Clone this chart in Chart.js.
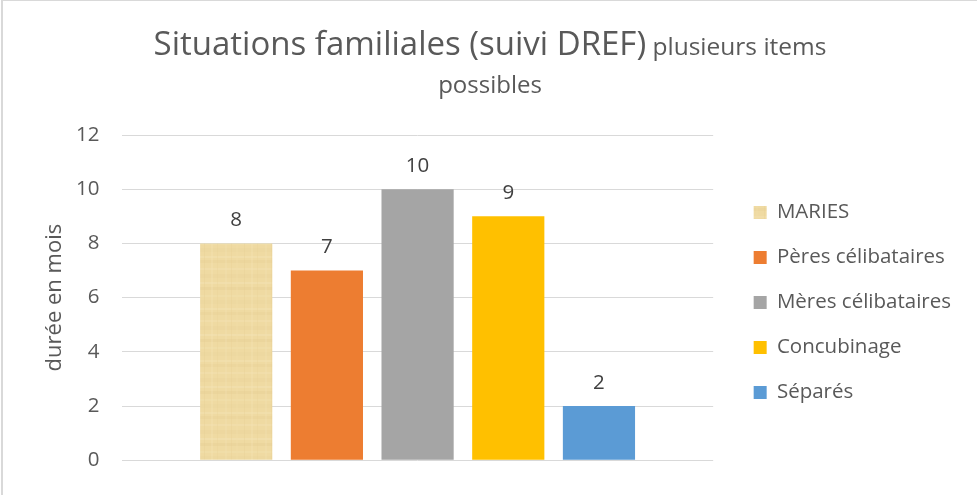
<!DOCTYPE html>
<html>
<head>
<meta charset="utf-8">
<script src="https://cdn.jsdelivr.net/npm/chart.js@4/dist/chart.umd.min.js"></script>
<style>
html,body{margin:0;padding:0;background:#ffffff;}
#wrap{width:977px;height:495px;position:relative;overflow:hidden;}
canvas{display:block;}
</style>
</head>
<body>
<div id="wrap"><canvas id="chart" width="977" height="495"></canvas></div>
<script>
// ---- data ----
const categories = ['Situations familiales'];
const seriesNames = ['MARIES', 'Pères célibataires', 'Mères célibataires', 'Concubinage', 'Séparés'];
const mariesValues = [8];
const peresValues = [7];
const meresValues = [10];
const concubinageValues = [9];
const separesValues = [2];
const yTickValues = [0, 2, 4, 6, 8, 10, 12];
const titleMain = 'Situations familiales (suivi DREF)';
const titleSmallLine1 = 'plusieurs items';
const titleSmallLine2 = 'possibles';
const yAxisTitle = 'durée en mois';

// ---- styles ----
const FONT = '"Open Sans", "Noto Sans", sans-serif';
const TEXT = '#595959';

function papyrusPattern() {
  const c = document.createElement('canvas');
  c.width = 40; c.height = 52;
  const g = c.getContext('2d');
  g.fillStyle = '#EFDAA2';
  g.fillRect(0, 0, 40, 52);
  const bands = [[0,3,'#E9D197'],[8,2,'#F3E0AF'],[14,4,'#EBD49B'],[22,2,'#F4E2B3'],[27,3,'#E8D095'],[35,2,'#F2DFAC'],[40,4,'#ECD59D'],[48,2,'#F3E1B1']];
  bands.forEach(b => { g.globalAlpha = 0.5; g.fillStyle = b[2]; g.fillRect(0, b[0], 40, b[1]); });
  const fibers = [[4,1,'#E6CD91'],[11,2,'#F4E3B5'],[17,1,'#E8CF94'],[25,2,'#F3E1B2'],[31,1,'#E7CE92'],[36,2,'#F1DEAA']];
  fibers.forEach(f => { g.globalAlpha = 0.3; g.fillStyle = f[2]; g.fillRect(f[0], 0, f[1], 52); });
  g.globalAlpha = 1;
  return g.createPattern(c, 'repeat');
}

const colors = [papyrusPattern(), '#ED7D31', '#A5A5A5', '#FFC000', '#5B9BD5'];
const seriesValues = [mariesValues, peresValues, meresValues, concubinageValues, separesValues];

const datasets = seriesNames.map((name, i) => ({
  label: name,
  data: seriesValues[i],
  backgroundColor: colors[i],
  borderWidth: 0,
  categoryPercentage: 0.767,
  barPercentage: 0.796
}));

const titlePlugin = {
  id: 'twoSizeTitle',
  afterDraw(chart) {
    const ctx = chart.ctx;
    ctx.save();
    ctx.fillStyle = TEXT;
    ctx.textBaseline = 'alphabetic';
    const bigFont = '33px ' + FONT;
    const smallFont = '24.5px ' + FONT;
    ctx.font = bigFont;
    const wBig = ctx.measureText(titleMain).width;
    ctx.font = smallFont;
    const wSpace = ctx.measureText(' ').width;
    const wSmall = ctx.measureText(titleSmallLine1).width;
    const cx = 490;
    const startX = cx - (wBig + wSpace + wSmall) / 2;
    ctx.textAlign = 'left';
    ctx.font = bigFont;
    ctx.fillText(titleMain, startX, 54.5);
    ctx.font = smallFont;
    ctx.fillText(titleSmallLine1, startX + wBig + wSpace, 54.5);
    ctx.font = '24px ' + FONT;
    ctx.textAlign = 'center';
    ctx.fillText(titleSmallLine2, cx, 92.5);
    // outer border (left and top visible)
    ctx.fillStyle = '#D9D9D9';
    ctx.fillRect(1, 0, 2, 495);
    ctx.fillRect(1, 0, 976, 1);
    ctx.restore();
  }
};

const valueLabelPlugin = {
  id: 'valueLabels',
  afterDatasetsDraw(chart) {
    const ctx = chart.ctx;
    ctx.save();
    ctx.font = '20.5px ' + FONT;
    ctx.fillStyle = '#404040';
    ctx.textAlign = 'center';
    ctx.textBaseline = 'middle';
    chart.data.datasets.forEach((ds, i) => {
      const meta = chart.getDatasetMeta(i);
      meta.data.forEach((bar, j) => {
        ctx.fillText(String(ds.data[j]), bar.x, bar.y - 23);
      });
    });
    ctx.restore();
  }
};

new Chart(document.getElementById('chart'), {
  type: 'bar',
  data: { labels: categories, datasets: datasets },
  options: {
    responsive: false,
    animation: false,
    devicePixelRatio: 1,
    layout: { padding: { top: 135, bottom: 32, left: 0, right: 16 } },
    plugins: {
      title: { display: false },
      tooltip: { enabled: false },
      legend: {
        display: true,
        position: 'right',
        fullSize: false,
        maxWidth: 300,
        title: { display: true, text: ' ', font: { size: 5 }, padding: { top: 2, bottom: 2 } },
        labels: {
          boxWidth: 13,
          boxHeight: 13,
          padding: 24.5,
          color: TEXT,
          font: { family: FONT, size: 20.5 }
        }
      }
    },
    scales: {
      x: { display: false },
      y: {
        min: 0,
        max: 12,
        afterBuildTicks(scale) { scale.ticks = yTickValues.map(v => ({ value: v })); },
        afterFit(scale) { scale.width = 122; },
        ticks: { color: TEXT, padding: 22.5, font: { family: FONT, size: 20.5 } },
        grid: { color: '#D9D9D9', lineWidth: 1, drawTicks: false },
        border: { display: false },
        title: {
          display: true,
          text: yAxisTitle,
          color: TEXT,
          font: { family: FONT, size: 22 },
          padding: { top: 42, bottom: 0 }
        }
      },
      spacer: {
        type: 'linear',
        position: 'right',
        display: true,
        grid: { display: false },
        ticks: { display: false },
        border: { display: false },
        afterFit(scale) { scale.width = 16; }
      }
    }
  },
  plugins: [titlePlugin, valueLabelPlugin]
});
</script>
</body>
</html>
